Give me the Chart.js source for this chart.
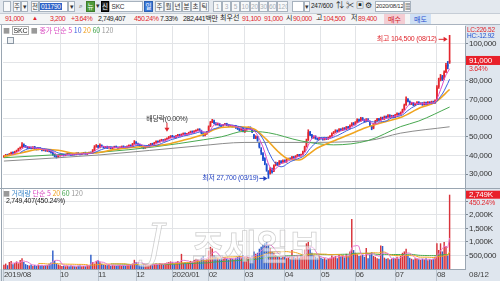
<!DOCTYPE html>
<html>
<head>
<meta charset="utf-8">
<script src="https://cdn.jsdelivr.net/npm/chart.js@4.4.1/dist/chart.umd.min.js"></script>
<style>
  html, body { margin: 0; padding: 0; }
  body { width: 500px; height: 281px; overflow: hidden; position: relative; background: #fff;
         font-family: "Liberation Sans", "Noto Sans CJK KR", sans-serif;
         font-size: 7px; letter-spacing: -0.25px; color: #222; }
  .a { position: absolute; white-space: nowrap; line-height: 1; }
  .r { color: #e0262d; }
  .u { color: #1f4fd0; }
  .q { letter-spacing: -0.45px; }
  .k { position: absolute; top: 1px; height: 11px; box-sizing: border-box; border: 1px solid #a7b2be;
       background: #f8f9fa; text-align: center; line-height: 9px; font-size: 6.5px; color: #333;
       font-family: "Noto Sans CJK KR", sans-serif; letter-spacing: 0; overflow: hidden; }
  .g { color: #a8b0b8; font-family: "Liberation Sans", sans-serif; }
  .kr { font-family: "Noto Sans CJK KR", sans-serif; font-size: 7px; letter-spacing: 0; }
  .n { font-family: "Liberation Sans", sans-serif; letter-spacing: -0.25px; }
  canvas { position: absolute; left: 0; }
</style>
</head>
<body>
<!-- toolbar -->
<div class="a" style="left:0;top:0;width:500px;height:13px;background:#e3e8ee"></div>
<div class="a" style="left:0;top:13px;width:500px;height:12px;background:#f4f5f6;border-top:1px solid #c6cdd6;border-bottom:1px solid #a9b3bf;box-sizing:border-box"></div>
<div class="k" style="left:3px;width:8px"></div>
<div class="k" style="left:13px;width:8px">주</div>
<div class="k" style="left:21px;width:7px">▾</div>
<div class="k" style="left:31px;width:8px">전</div>
<div class="k n" style="left:39px;width:29px;background:#fff;text-align:left"><span style="background:#2f63c8;color:#fff;padding:0 1px">011790</span></div>
<div class="k" style="left:68px;width:7px">▾</div>
<div class="k" style="left:77px;width:7px;border:none;background:none">⌕</div>
<div class="k" style="left:86px;width:9px;background:#4f9a3a;color:#fff;border-color:#3d7c2c">뉴</div>
<div class="k" style="left:95px;width:5px;border:none;background:none">▾</div>
<div class="k" style="left:101px;width:8px;background:#222;color:#fff;border-color:#000">신</div>
<div class="k n" style="left:109px;width:34px;background:#fff;text-align:left">&nbsp;SKC</div>
<div class="k" style="left:144px;width:9px;background:#3a78d8;color:#fff;border-color:#2c5fb0">일</div>
<div class="k" style="left:155px;width:9px">주</div>
<div class="k" style="left:164px;width:9px">월</div>
<div class="k" style="left:173px;width:9px">년</div>
<div class="k" style="left:182px;width:9px">분</div>
<div class="k" style="left:191px;width:9px">초</div>
<div class="k" style="left:200px;width:9px">틱</div>
<div class="k g" style="left:213px;width:9px">1</div>
<div class="k g" style="left:222px;width:9px">3</div>
<div class="k g" style="left:231px;width:9px">5</div>
<div class="k g" style="left:240px;width:10px">10</div>
<div class="k g" style="left:250px;width:9px">20</div>
<div class="k g" style="left:259px;width:9px">30</div>
<div class="k g" style="left:268px;width:9px">60</div>
<div class="k g" style="left:277px;width:11px">120</div>
<div class="k" style="left:292px;width:12px;background:#fff"></div>
<div class="k" style="left:304px;width:6px">▾</div>
<div class="a" style="left:311px;top:3px;font-size:6.5px">247/600</div>
<div class="a" style="left:336px;top:2px;font-size:8px">⇅</div>
<div class="a" style="left:346px;top:2px;font-size:8px">✂</div>
<div class="a" style="left:356px;top:2px;font-size:8px">▣</div>
<div class="a" style="left:365px;top:2px;font-size:8px">⚙</div>
<div class="k n" style="left:375px;width:29px;background:#fff;font-size:6px">2020/08/12</div>
<div class="k" style="left:404px;width:7px">▦</div>

<div class="a r q" style="left:5px;top:15px">91,000</div>
<div class="a r" style="left:32px;top:15px;font-size:6px">▲</div>
<div class="a r q" style="left:50px;top:15px">3,200</div>
<div class="a r q" style="left:71px;top:15px">+3.64%</div>
<div class="a q" style="left:98px;top:15px">2,749,407</div>
<div class="a r q" style="left:134px;top:15px">450.24%</div>
<div class="a q" style="left:160px;top:15px">7.33%</div>
<div class="a q" style="left:183px;top:15px">282,441<span class="kr">백만</span></div>
<div class="a kr" style="left:220px;top:14px">최우선</div>
<div class="a r q" style="left:242px;top:15px">91,100</div>
<div class="a r q" style="left:264px;top:15px">91,000</div>
<div class="a kr" style="left:286px;top:14px">시</div>
<div class="a r q" style="left:293px;top:15px">90,000</div>
<div class="a kr" style="left:316px;top:14px">고</div>
<div class="a r q" style="left:323px;top:15px">104,500</div>
<div class="a kr" style="left:351px;top:14px">저</div>
<div class="a r q" style="left:358px;top:15px">89,400</div>
<div class="a kr" style="left:384px;top:14px;width:21px;height:10px;background:#f4cdd3;color:#d0202a;text-align:center;line-height:10px">매수</div>
<div class="a kr" style="left:410px;top:14px;width:21px;height:10px;background:#cfe0f4;color:#1f4fd0;text-align:center;line-height:10px">매도</div>

<!-- frame backgrounds -->
<div class="a" style="left:465px;top:25px;width:35px;height:256px;background:#dfe6ee"></div>
<div class="a" style="left:0;top:269px;width:465px;height:12px;background:#dfe6ee"></div>
<div class="a" style="left:1px;top:25px;width:1px;height:256px;background:#9aa6b2"></div>

<canvas id="price" width="500" height="163" style="top:26px"></canvas>
<canvas id="vol" width="500" height="92" style="top:189px"></canvas>

<div class="a" style="left:0;top:188px;width:500px;height:1px;background:#9aa6b2"></div>

<!-- panel legends -->
<div class="a kr" style="left:3px;top:27px"><span style="color:#999">■</span> <span class="n" style="border:1px solid #aaa;padding:0 1px">SKC</span> <span style="color:#999">■</span> <span style="color:#d848c0">종가 단순 5</span> <span style="color:#3b5fe0">10</span> <span style="color:#f0a020">20</span> <span style="color:#3fa34a">60</span> <span style="color:#999">120</span></div>
<div class="a" style="left:7px;top:37px;width:5px;height:5px;border:1px solid #8a96a3;background:#eef1f4"></div>
<div class="a kr" style="left:3px;top:190px"><span style="color:#999">■</span> <span style="color:#3b86c8">거래량</span> <span style="color:#d848c0">단순 5</span> <span style="color:#f0a020">20</span> <span style="color:#3fa34a">60</span> <span style="color:#999">120</span></div>
<div class="a" style="left:6px;top:197px">2,749,407(450.24%)</div>

<div class="a r" style="left:467px;top:27px;font-size:6.5px">LC:226.52</div>
<div class="a u" style="left:467px;top:33px;font-size:6.5px">HC:-12.92</div>
<div class="a" style="left:469px;top:271px;color:#444;font-size:8px;letter-spacing:0">08/12</div>

<div class="a kr" style="left:146px;top:218px;font-size:46px;font-family:'DejaVu Serif',serif;font-style:italic;color:rgba(255,255,255,0.6);-webkit-text-stroke:0.8px rgba(150,150,150,0.45)">J</div>
<div class="a kr" style="left:192px;top:227px;font-size:35px;font-weight:bold;color:rgba(255,255,255,0.55);-webkit-text-stroke:0.8px rgba(150,150,150,0.45)">조세일보</div>

<script>
// month layout of the 247 trading days shown (2019/08/14 .. 2020/08/12)
const monthStart = [0, 31, 52, 73, 93, 113, 133, 155, 175, 194, 216, 239];
const monthNames = ['2019/08', '10', '11', '12', '2020/01', '02', '03', '04', '05', '06', '07', '08'];
const priceTicks = [30, 40, 50, 60, 70, 80, 90, 100];
const volTicks = [500, 1000, 1500, 2000, 2500];

// prices in thousand won
const opens = [
  39.2, 39.7, 40.4, 40.1, 40.9, 41.6, 41.3, 42.2, 42.7, 43.7, 44.4, 45.9,
  45.1, 44.7, 43.9, 44.4, 43.9, 44.6, 43.7, 43.3, 44.0, 43.5, 42.7, 43.2, 42.4, 43.0, 42.3, 41.7, 40.5, 39.6, 39.1,
  39.9, 40.3, 40.5, 40.1, 40.6, 41.1, 40.8, 40.4, 40.9, 40.6, 41.3, 40.8, 40.7, 41.1, 41.5, 40.8, 41.2, 41.6, 41.3, 42.9, 44.8,
  45.1, 44.4, 45.4, 44.7, 44.3, 44.7, 44.1, 44.4, 43.9, 44.3, 44.8, 44.3, 44.1, 44.4, 44.9, 44.4, 44.3, 45.0, 45.4, 45.1, 46.4,
  47.1, 46.4, 45.9, 45.3, 44.7, 44.0, 44.4, 44.9, 45.6, 46.3, 46.1, 46.9, 47.6, 47.3, 48.1, 48.4, 48.0, 48.7, 49.3, 49.9,
  50.4, 50.1, 49.7, 50.6, 51.1, 50.7, 51.4, 51.9, 51.3, 51.7, 52.3, 52.9, 52.4, 53.1, 53.6, 54.1, 53.3, 51.9, 50.9, 51.6,
  52.8, 55.7, 57.9, 58.7, 57.3, 56.6, 57.1, 56.3, 55.9, 56.5, 57.0, 56.4, 55.8, 56.1, 55.5, 56.0, 54.9, 54.3, 53.6, 54.5,
  52.8, 53.9, 54.6, 55.1, 54.0, 51.2, 49.3, 50.0, 47.0, 43.0, 41.0, 38.5, 35.0, 31.5, 30.2, 32.5, 31.5, 34.8, 35.9, 35.2, 36.9, 36.2,
  37.3, 36.6, 37.9, 38.3, 38.1, 39.3, 38.8, 39.7, 40.4, 39.9, 40.6, 42.2, 44.8, 48.3, 52.6, 51.1, 49.6, 50.3, 49.1, 48.7,
  49.5, 49.1, 48.6, 49.4, 48.9, 49.7, 50.5, 51.9, 52.6, 53.5, 52.9, 54.1, 53.6, 54.7, 54.1, 55.3, 54.7, 56.1, 57.3,
  56.7, 57.9, 59.3, 58.6, 60.1, 59.1, 58.3, 59.5, 58.4, 55.6, 54.6, 56.9, 58.6, 59.7, 59.1, 60.3, 59.6, 60.9, 60.3, 61.6, 60.7, 61.3,
  60.6, 61.9, 62.6, 62.0, 63.1, 64.6, 67.1, 70.3, 69.1, 67.6, 68.3, 67.1, 67.9, 68.6, 67.7, 68.1, 67.3, 68.4, 67.6, 68.7, 68.0, 68.9, 68.3,
  70.0, 76.8, 80.5, 82.4, 81.2, 84.8, 89.0, 90.0
];
const highs = [
  40.0, 40.6, 40.7, 41.1, 41.8, 41.9, 42.3, 42.9, 43.9, 44.6, 46.9, 46.2,
  45.4, 44.9, 44.6, 44.7, 44.8, 44.9, 43.9, 44.2, 44.3, 43.7, 43.4, 43.4, 43.2, 43.2, 42.5, 41.9, 40.8, 39.9, 40.3,
  40.5, 40.9, 40.8, 40.8, 41.3, 41.4, 41.0, 41.1, 41.2, 41.5, 41.6, 41.0, 41.3, 41.7, 41.8, 41.4, 41.8, 41.9, 43.2, 45.3, 45.9,
  45.4, 46.2, 45.7, 45.0, 44.9, 45.0, 44.8, 44.7, 44.5, 45.0, 45.1, 44.6, 44.6, 45.1, 45.2, 44.7, 45.2, 45.7, 45.7, 46.5, 48.0,
  47.4, 46.7, 46.1, 45.5, 44.9, 44.6, 45.1, 45.8, 46.5, 46.6, 47.1, 47.8, 47.9, 48.3, 48.7, 48.6, 48.9, 49.5, 50.2, 50.7,
  50.8, 50.4, 50.8, 51.4, 51.4, 51.6, 52.1, 52.2, 51.9, 52.5, 53.1, 53.2, 53.3, 53.8, 54.3, 54.4, 53.6, 52.2, 51.8, 52.9,
  55.9, 58.3, 59.4, 59.0, 57.6, 57.4, 57.3, 56.5, 56.7, 57.2, 57.3, 56.6, 56.3, 56.3, 56.2, 56.2, 55.1, 54.6, 54.8, 54.7,
  54.1, 54.9, 55.4, 55.4, 54.2, 51.4, 50.6, 50.3, 47.2, 44.2, 41.5, 38.8, 35.6, 31.9, 33.6, 33.2, 35.0, 36.5, 36.3, 37.3, 37.2, 37.6,
  37.6, 38.2, 38.6, 38.7, 39.5, 39.5, 39.9, 40.6, 40.6, 40.8, 42.4, 45.0, 48.8, 53.8, 53.0, 51.4, 50.6, 50.6, 49.3, 49.8,
  49.8, 49.4, 49.6, 49.7, 49.9, 50.7, 52.2, 52.9, 53.8, 53.7, 54.4, 54.4, 54.9, 55.0, 55.6, 55.6, 56.4, 57.6, 57.7,
  58.2, 59.7, 59.6, 60.5, 60.4, 59.3, 59.8, 59.8, 58.6, 55.9, 57.2, 58.9, 60.0, 59.9, 60.6, 60.6, 61.2, 61.2, 61.9, 61.9, 61.6, 61.6,
  62.1, 62.9, 62.8, 63.4, 64.9, 67.6, 71.5, 70.6, 69.3, 68.6, 68.5, 68.1, 68.9, 68.9, 68.3, 68.4, 68.7, 68.7, 68.9, 68.9, 69.2, 69.2, 69.9,
  77.5, 81.5, 83.5, 83.0, 85.5, 89.5, 90.5, 104.5
];
const lows = [
  38.9, 39.5, 39.7, 39.8, 40.6, 40.9, 41.0, 41.9, 42.4, 43.4, 44.1, 44.7,
  44.3, 43.7, 43.6, 43.5, 43.6, 43.3, 42.9, 43.0, 43.1, 42.5, 42.5, 42.2, 42.1, 41.9, 41.3, 40.1, 39.2, 38.6, 38.8,
  39.6, 40.0, 39.7, 39.8, 40.3, 40.5, 40.0, 40.1, 40.2, 40.3, 40.6, 40.3, 40.4, 40.8, 40.6, 40.5, 40.9, 40.9, 41.0, 42.6, 44.4,
  44.0, 44.1, 44.5, 43.9, 44.0, 43.7, 43.8, 43.5, 43.6, 44.0, 44.1, 43.7, 43.8, 44.1, 44.2, 43.9, 44.0, 44.7, 44.7, 44.8, 46.0,
  46.2, 45.5, 44.9, 44.3, 43.6, 43.8, 44.2, 44.7, 45.4, 45.7, 45.8, 46.6, 46.9, 47.1, 47.8, 47.6, 47.7, 48.4, 49.0, 49.6,
  49.7, 49.3, 49.4, 50.3, 50.3, 50.4, 51.1, 50.9, 51.0, 51.4, 52.0, 52.0, 52.1, 52.8, 53.3, 53.1, 51.7, 50.4, 50.5, 51.3,
  52.6, 55.4, 57.6, 57.0, 56.2, 56.3, 56.0, 55.5, 55.7, 56.2, 56.0, 55.4, 55.5, 55.2, 55.2, 54.5, 53.9, 53.2, 53.4, 52.7,
  52.4, 53.5, 54.2, 53.9, 52.3, 49.0, 49.0, 47.6, 44.0, 40.5, 37.2, 35.0, 31.5, 27.7, 30.0, 30.5, 31.3, 34.4, 34.7, 35.0, 35.7, 35.9,
  36.2, 36.3, 37.6, 37.7, 37.9, 38.4, 38.5, 39.4, 39.5, 39.6, 40.3, 41.9, 44.5, 48.0, 50.6, 49.2, 49.2, 48.7, 48.3, 48.4,
  48.7, 48.2, 48.3, 48.5, 48.6, 49.4, 50.2, 51.6, 52.3, 52.5, 52.6, 53.2, 53.3, 53.7, 53.8, 54.3, 54.4, 55.8, 56.3,
  56.4, 57.6, 58.2, 58.3, 58.7, 57.9, 58.0, 58.3, 55.7, 53.8, 54.3, 56.6, 58.3, 58.7, 58.8, 59.2, 59.3, 59.9, 60.0, 60.3, 60.4, 60.2,
  60.3, 61.6, 61.6, 61.7, 62.8, 64.3, 66.8, 68.7, 67.2, 67.3, 66.7, 66.8, 67.6, 67.3, 67.4, 66.9, 67.0, 67.2, 67.3, 67.6, 67.7, 67.9, 68.0,
  69.8, 76.0, 80.0, 80.2, 80.8, 84.5, 86.5, 89.4
];
const closes = [
  39.6, 40.2, 40.0, 40.8, 41.5, 41.2, 42.0, 42.6, 43.5, 44.2, 45.8, 45.0,
  44.6, 44.0, 44.3, 43.8, 44.5, 43.6, 43.2, 43.9, 43.4, 42.8, 43.1, 42.5, 42.9, 42.2, 41.6, 40.4, 39.5, 39.0, 39.8,
  40.2, 40.6, 40.0, 40.5, 41.0, 40.7, 40.3, 40.8, 40.5, 41.2, 40.9, 40.6, 41.0, 41.4, 40.9, 41.1, 41.5, 41.2, 42.8, 44.6, 45.2,
  44.3, 45.5, 44.8, 44.2, 44.6, 44.0, 44.5, 43.8, 44.2, 44.7, 44.4, 44.0, 44.3, 44.8, 44.5, 44.2, 44.9, 45.3, 45.0, 46.2, 47.0,
  46.5, 45.8, 45.2, 44.6, 44.0, 44.3, 44.8, 45.5, 46.2, 46.0, 46.8, 47.5, 47.2, 48.0, 48.3, 47.9, 48.6, 49.2, 49.8, 50.3,
  50.0, 49.6, 50.5, 51.0, 50.6, 51.3, 51.8, 51.2, 51.6, 52.2, 52.8, 52.3, 53.0, 53.5, 54.0, 53.4, 52.0, 50.8, 51.5, 52.6,
  55.5, 57.8, 58.6, 57.2, 56.5, 57.0, 56.2, 55.8, 56.4, 56.9, 56.3, 55.7, 56.0, 55.4, 55.9, 54.8, 54.2, 53.5, 54.4, 53.0,
  53.8, 54.5, 55.0, 54.2, 52.6, 49.5, 50.2, 48.0, 44.5, 42.0, 38.0, 35.5, 32.0, 29.5, 33.0, 31.0, 34.5, 35.8, 35.0, 36.8, 36.0, 37.2,
  36.5, 37.8, 38.2, 38.0, 39.2, 38.7, 39.6, 40.3, 39.8, 40.5, 42.0, 44.5, 48.0, 52.5, 51.0, 49.5, 50.2, 49.0, 48.6, 49.4,
  49.0, 48.5, 49.3, 48.8, 49.6, 50.4, 51.8, 52.5, 53.4, 52.8, 54.0, 53.5, 54.6, 54.0, 55.2, 54.6, 56.0, 57.2, 56.6,
  57.8, 59.2, 58.5, 60.0, 59.0, 58.2, 59.4, 58.6, 56.0, 54.5, 56.8, 58.5, 59.6, 59.0, 60.2, 59.5, 60.8, 60.2, 61.5, 60.6, 61.2, 60.5,
  61.8, 62.5, 61.9, 63.0, 64.5, 67.0, 70.2, 69.0, 67.5, 68.2, 67.0, 67.8, 68.5, 67.6, 68.0, 67.2, 68.3, 67.5, 68.6, 67.9, 68.8, 68.2, 69.5,
  76.5, 80.2, 82.0, 81.0, 84.5, 88.6, 87.8, 91.0
];
// volume in thousand shares
const volumes = [
  160, 200, 140, 260, 300, 180, 220, 280, 210, 330, 400, 260,
  180, 150, 130, 170, 120, 150, 110, 160, 130, 140, 110, 130, 150, 190, 240, 680, 300, 200, 170,
  140, 110, 120, 100, 120, 100, 130, 110, 100, 90, 120, 130, 100, 110, 100, 140, 120, 530, 260, 200, 300,
  330, 250, 190, 160, 150, 140, 160, 120, 140, 130, 120, 140, 150, 120, 130, 120, 150, 170, 160, 200, 340,
  260, 190, 170, 200, 180, 150, 160, 170, 160, 140, 180, 200, 170, 210, 190, 160, 220, 240, 260, 280,
  250, 200, 260, 300, 250, 560, 230, 250, 210, 240, 300, 270, 330, 380, 350, 290, 420, 480, 330, 370,
  680, 820, 760, 500, 450, 420, 380, 400, 370, 420, 380, 350, 400, 380, 360, 420, 450, 480, 400, 520,
  450, 400, 380, 420, 500, 650, 560, 600, 750, 820, 900, 950, 1000, 880, 780, 650, 600, 520, 480, 450, 420, 500,
  450, 400, 420, 380, 700, 450, 420, 480, 430, 460, 550, 720, 950, 1000, 800, 600, 500, 450, 420, 480,
  420, 380, 400, 350, 380, 420, 500, 450, 480, 400, 520, 450, 500, 430, 560, 480, 650, 1850, 700,
  600, 550, 480, 500, 520, 450, 780, 400, 550, 620, 480, 450, 400, 380, 870, 850, 420, 380, 400, 350, 380, 420,
  400, 450, 380, 480, 600, 650, 750, 500, 420, 380, 350, 400, 380, 360, 340, 380, 350, 400, 320, 360, 340, 380, 450,
  950, 700, 950, 650, 1000, 850, 500, 2749
];

// long moving averages (bar index, value)
const ma20Idx = [0, 10, 20, 30, 40, 50, 60, 70, 80, 90, 100, 110, 120, 130, 138, 145, 152, 158, 163, 168, 173, 182, 190, 200, 210, 220, 230, 238, 246];
const ma20Val = [39.5, 41.5, 43.3, 42.8, 41.2, 41.3, 43.0, 44.3, 45.0, 46.0, 48.4, 51.3, 55.0, 55.4, 54.2, 48.5, 41.5, 37.8, 37.6, 40.5, 44.0, 47.8, 51.0, 55.0, 58.0, 60.8, 65.7, 68.5, 75.4];
const ma60Idx = [0, 27, 55, 83, 110, 120, 133, 146, 164, 182, 201, 219, 229, 246];
const ma60Val = [38.8, 40.3, 41.9, 44.6, 48.4, 50.0, 53.0, 52.2, 47.8, 45.7, 48.0, 55.5, 58.5, 66.0];
const ma120Idx = [0, 53, 108, 133, 164, 201, 219, 246];
const ma120Val = [37.0, 40.3, 45.2, 47.0, 47.0, 48.0, 52.0, 55.4];

const hiIdx = 246, hiDate = '08/12';
const loIdx = 146, loDate = '03/19';
const divIdx = 90;

const SLOTS = 255; // 247 bars plus empty room on the right
const labels = Array.from({ length: SLOTS }, (_, i) => String(i));
const UP = '#e3262e', DOWN = '#1f4fd0';
const VUP = '#d8323a', VDOWN = '#2f5fca';
const FONT = '"Liberation Sans", "Noto Sans CJK KR", sans-serif';

function sma(src, n) {
  return src.map((_, i) => i < n - 1 ? null : src.slice(i - n + 1, i + 1).reduce((a, b) => a + b, 0) / n);
}
function sparse(idx, val) {
  const out = new Array(closes.length).fill(null);
  idx.forEach((k, j) => { out[k] = val[j]; });
  return out;
}
const won = v => Math.round(v * 1000).toLocaleString('en-US');
function arrowTo(ctx, x1, y1, x2, y2) {
  const a = Math.atan2(y2 - y1, x2 - x1);
  ctx.beginPath(); ctx.moveTo(x1, y1); ctx.lineTo(x2 - 3 * Math.cos(a), y2 - 3 * Math.sin(a)); ctx.stroke();
  ctx.beginPath();
  ctx.moveTo(x2, y2);
  ctx.lineTo(x2 - 4 * Math.cos(a) + 2.5 * Math.sin(a), y2 - 4 * Math.sin(a) - 2.5 * Math.cos(a));
  ctx.lineTo(x2 - 4 * Math.cos(a) - 2.5 * Math.sin(a), y2 - 4 * Math.sin(a) + 2.5 * Math.cos(a));
  ctx.closePath(); ctx.fill();
}

const upDown = closes.map((c, i) => c >= opens[i]);
const lineDs = (data, color, width, extra) => Object.assign({
  type: 'line', data, borderColor: color, borderWidth: width, pointRadius: 0, order: 0
}, extra || {});

const priceNotes = {
  id: 'priceNotes',
  afterDraw(chart) {
    const { ctx, scales: { x, y } } = chart;
    ctx.save();
    ctx.font = '7px ' + FONT;
    ctx.textBaseline = 'middle';
    ctx.lineWidth = 1;
    // highest
    let px = x.getPixelForValue(hiIdx), py = y.getPixelForValue(highs[hiIdx]) + 4;
    ctx.fillStyle = ctx.strokeStyle = '#e0262d';
    ctx.textAlign = 'right';
    ctx.fillText('최고 ' + won(highs[hiIdx]) + ' (' + hiDate + ')', px - 13, py);
    arrowTo(ctx, px - 11, py, px - 2, py);
    // lowest
    px = x.getPixelForValue(loIdx); py = y.getPixelForValue(lows[loIdx]);
    ctx.fillStyle = ctx.strokeStyle = '#1f3fc0';
    ctx.fillText('최저 ' + won(lows[loIdx]) + ' (' + loDate + ')', px - 10, py);
    arrowTo(ctx, px - 9, py, px - 1, py);
    // ex-dividend
    px = x.getPixelForValue(divIdx); py = y.getPixelForValue(highs[divIdx]);
    ctx.fillStyle = '#333';
    ctx.textAlign = 'center';
    ctx.fillText('배당락(0.00%)', px, py - 19);
    ctx.fillStyle = ctx.strokeStyle = '#e0262d';
    arrowTo(ctx, px, py - 15, px, py - 6);
    // current price box on the axis
    const last = closes.length - 1;
    const cy = y.getPixelForValue(closes[last]);
    ctx.fillStyle = '#e8202a';
    ctx.fillRect(466, cy - 4.5, 34, 9);
    ctx.font = '8px "Liberation Sans", sans-serif';
    ctx.textAlign = 'left';
    ctx.fillStyle = '#fff';
    ctx.fillText(won(closes[last]), 469, cy + 0.5);
    ctx.fillStyle = '#e0262d';
    ctx.font = '7px "Liberation Sans", sans-serif';
    ctx.fillText(((closes[last] / closes[last - 1] - 1) * 100).toFixed(2) + '%', 469, cy + 8.5);
    ctx.restore();
  }
};

const volNotes = {
  id: 'volNotes',
  afterDraw(chart) {
    const { ctx, scales: { y } } = chart;
    const last = volumes.length - 1;
    const vy = y.getPixelForValue(volumes[last]);
    ctx.save();
    ctx.fillStyle = '#e8202a';
    ctx.fillRect(466, vy - 4, 34, 8);
    ctx.font = '8px "Liberation Sans", sans-serif';
    ctx.textBaseline = 'middle';
    ctx.fillStyle = '#fff';
    ctx.fillText(volumes[last].toLocaleString('en-US') + 'K', 469, vy + 0.5);
    ctx.fillStyle = '#e0262d';
    ctx.font = '7px "Liberation Sans", sans-serif';
    ctx.fillText('450.24%', 469, vy + 8);
    ctx.restore();
  }
};

const gridColor = '#e2e4e7';
const tickFont = { size: 8, family: '"Liberation Sans", sans-serif' };

new Chart(document.getElementById('price'), {
  type: 'bar',
  data: {
    labels,
    datasets: [
      lineDs(sma(closes, 5), '#e04cc8', 1),
      lineDs(sma(closes, 10), '#3b5fe0', 1),
      lineDs(sparse(ma20Idx, ma20Val), '#f0a520', 1.6, { spanGaps: true, cubicInterpolationMode: 'monotone' }),
      lineDs(sparse(ma60Idx, ma60Val), '#48a850', 1, { spanGaps: true, cubicInterpolationMode: 'monotone' }),
      lineDs(sparse(ma120Idx, ma120Val), '#8c8c8c', 1, { spanGaps: true, cubicInterpolationMode: 'monotone' }),
      {
        data: opens.map((o, i) => [o, closes[i]]),
        backgroundColor: upDown.map(u => u ? UP : DOWN),
        barPercentage: 0.85, categoryPercentage: 1, grouped: false, minBarLength: 1, order: 2
      },
      {
        data: lows.map((l, i) => [l, highs[i]]),
        backgroundColor: upDown.map(u => u ? UP : DOWN),
        barThickness: 1, grouped: false, order: 3
      }
    ]
  },
  options: {
    responsive: false,
    animation: false,
    layout: { padding: { left: 3, right: 0, top: 0, bottom: 0 } },
    plugins: { legend: { display: false }, tooltip: { enabled: false } },
    scales: {
      x: {
        ticks: { display: false },
        grid: { color: gridColor, offset: false, drawTicks: false },
        border: { display: false },
        afterBuildTicks: s => { s.ticks = monthStart.slice(1).map(v => ({ value: v })); },
        afterFit: s => { s.height = 0; s.paddingLeft = 0; s.paddingRight = 0; }
      },
      y: {
        position: 'right',
        min: 22, max: 109.5,
        afterBuildTicks: s => { s.ticks = priceTicks.map(v => ({ value: v })); },
        afterFit: s => { s.width = 35; s.paddingTop = 0; s.paddingBottom = 0; },
        grid: { color: gridColor, tickLength: 3, tickColor: '#7d8995' },
        border: { color: '#9aa6b2' },
        ticks: { color: '#333', font: tickFont, padding: 1, callback: v => won(v) }
      }
    }
  },
  plugins: [priceNotes]
});

new Chart(document.getElementById('vol'), {
  type: 'bar',
  data: {
    labels,
    datasets: [
      lineDs(sma(volumes, 5), '#e87ad0', 1),
      lineDs(sma(volumes, 20), '#f0a520', 1),
      lineDs(sma(volumes, 60), '#48a850', 1),
      {
        data: volumes,
        backgroundColor: upDown.map(u => u ? VUP : VDOWN),
        barPercentage: 0.8, categoryPercentage: 1, order: 2
      }
    ]
  },
  options: {
    responsive: false,
    animation: false,
    layout: { padding: { left: 3, right: 0, top: 0, bottom: 0 } },
    plugins: { legend: { display: false }, tooltip: { enabled: false } },
    scales: {
      x: {
        afterBuildTicks: s => { s.ticks = monthStart.map(v => ({ value: v })); },
        afterFit: s => { s.height = 12; s.paddingLeft = 0; s.paddingRight = 0; },
        grid: { color: gridColor, offset: false, tickLength: 12, tickColor: '#b9c3ce' },
        border: { color: '#9aa6b2' },
        ticks: {
          autoSkip: false, maxRotation: 0, align: 'start', padding: -11,
          color: '#444', font: tickFont,
          callback: v => monthNames[monthStart.indexOf(v)]
        }
      },
      y: {
        position: 'right',
        min: 0, max: 2960,
        afterBuildTicks: s => { s.ticks = volTicks.map(v => ({ value: v })); },
        afterFit: s => { s.width = 35; s.paddingTop = 0; s.paddingBottom = 0; },
        grid: { color: gridColor, tickLength: 3, tickColor: '#7d8995' },
        border: { color: '#9aa6b2' },
        ticks: {
          color: '#333', font: tickFont, padding: 1,
          callback: v => v === 2500 ? '' : (v < 1000 ? (v * 1000).toLocaleString('en-US') : v.toLocaleString('en-US') + 'K')
        }
      }
    }
  },
  plugins: [volNotes]
});
</script>
</body>
</html>
